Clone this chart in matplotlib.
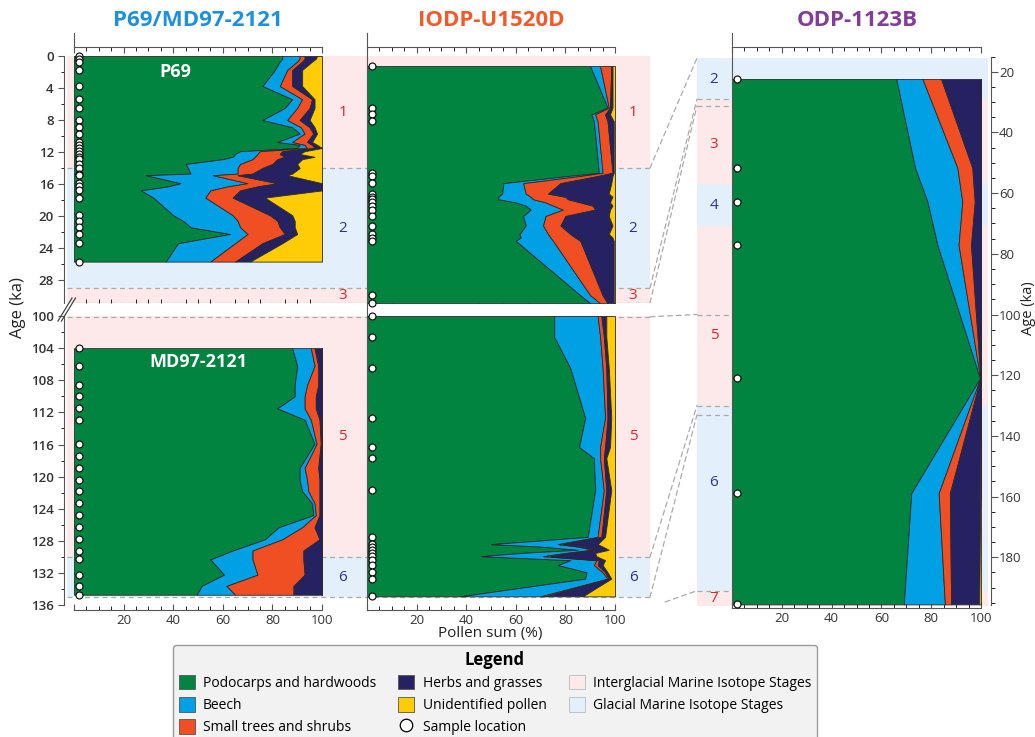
import numpy as np
import matplotlib.pyplot as plt
from matplotlib.patches import Patch, ConnectionPatch
from matplotlib.lines import Line2D

plt.rcParams['font.family'] = ['Open Sans', 'DejaVu Sans']

# pollen groups (percent of pollen sum)
groups = ['Podocarps and hardwoods', 'Beech', 'Small trees and shrubs',
          'Herbs and grasses', 'Unidentified pollen']
colors = ['#00843f', '#00a1e4', '#f04e23', '#262261', '#ffcc05']

# P69 core, 0-26 ka
p69_age = [0, 0.35, 0.7, 1.75, 3.75, 5.4, 6.5, 8.0, 8.9, 9.7, 10.75, 11.1, 11.5,
           11.9, 12.25, 12.6, 12.9, 13.5, 14.0, 14.7, 14.9, 15.9, 16.3, 16.8,
           17.7, 19.9, 20.6, 21.4, 22.25, 23.4, 25.7]
p69_podo = [84, 84, 83, 81, 76, 88, 85, 76, 88, 91, 82, 91, 90, 67, 65, 64, 60, 45,
            46, 47, 29, 43, 38, 27, 32, 40, 44, 47, 63, 42, 37]
p69_beech = [7, 7, 7, 5, 7, 4, 5, 10, 3.5, 2, 6, 2, 4, 8, 9, 9, 12, 22, 20, 19, 27,
             27, 24, 28, 21, 24, 22, 20, 7, 23, 18]
p69_shrub = [2, 2, 2, 2, 5, 4, 5, 5, 3.5, 3.5, 6, 3, 3, 9, 9, 12, 10, 13, 10, 6, 10,
             12, 12, 12, 11, 15, 16, 16, 15, 11, 10]
p69_herb = [5, 4.5, 4, 4, 4, 1, 2, 4, 2, 1.5, 2, 2, 3, 9, 8, 12, 10, 10, 15, 16, 20,
            18, 26, 33, 13, 9, 7, 6, 5, 8, 6]
p69_unid = [2, 2.5, 4, 8, 8, 3, 3, 5, 3, 2, 4, 2, 0, 7, 9, 3, 8, 10, 9, 12, 14, 0,
            0, 0, 23, 12, 11, 11, 10, 16, 29]

# MD97-2121 core, 104-135 ka
md97_age = [104.0, 106.2, 108.6, 110.0, 111.5, 112.9, 115.9, 117.4, 118.9, 120.4,
            121.8, 123.3, 124.8, 126.3, 127.8, 129.2, 130.3, 132.2, 133.6, 134.7]
md97_podo = [88, 90, 89, 89, 82, 93, 97, 94, 91, 91, 92, 96, 96.5, 82.5, 77, 64,
             55, 60.5, 51.5, 49.5]
md97_beech = [7.5, 7, 5, 4, 11, 2.5, 0.8, 1.5, 2, 3, 2.5, 1, 1, 9.5, 7, 8, 17,
              13.5, 10, 15.5]
md97_shrub = [1.5, 1.5, 4.5, 4.5, 4.5, 3.5, 1.7, 3.5, 5.5, 5, 4.5, 2, 1.5, 5, 15,
              20.5, 20.5, 19, 27, 23.5]
md97_herb = [3, 1.5, 1.5, 2.5, 2.5, 1, 0.5, 1, 1.5, 1, 1, 1, 1, 3, 1, 7.5, 7.5, 7,
             11.5, 11.5]
md97_unid = [0] * 20

# IODP-U1520D, upper interval
u_up_age = [1.25, 6.46, 7.3, 8.17, 14.6, 15.0, 15.9, 17.2, 17.6, 17.9, 18.3, 18.7,
            19.2, 20.0, 21.2, 22.25, 22.7, 23.1, 29.9, 30.9]
u_up_podo = [90, 97, 90.5, 91.5, 93.5, 81, 55, 54.5, 53, 53, 60, 64, 66, 63, 64,
             61.5, 62, 60, 86, 90]
u_up_beech = [4, 0.5, 1.5, 1.5, 1.5, 5, 8, 9.5, 13, 14, 12, 11, 13, 9, 7, 11.5,
              12, 15, 4, 4]
u_up_shrub = [4.5, 0.5, 4, 4, 4, 7, 15, 9, 14, 14, 14, 16, 13, 8, 7, 9, 10, 11,
              5, 3]
u_up_herb = [0.5, 1, 2, 2.5, 0.5, 6, 20.5, 24.5, 19, 17.5, 12, 8, 6, 17.5, 21,
             15.5, 15, 13.5, 4.5, 2.5]
u_up_unid = [1, 1, 2, 0.5, 0.5, 1, 1.5, 2.5, 1, 1.5, 2, 1, 2, 2.5, 1, 2.5, 1,
             0.5, 0.5, 0.5]

# IODP-U1520D, lower interval
u_lo_age = [100.0, 102.6, 106.5, 112.7, 116.3, 117.7, 121.7, 127.5, 128.4, 128.7,
            129.1, 129.5, 129.9, 130.4, 131.0, 131.9, 132.7, 134.9]
u_lo_podo = [75.5, 75.5, 82, 88, 85.5, 91.5, 92, 89, 50, 70, 85, 62, 46, 82, 77,
             88.5, 88, 37.5]
u_lo_beech = [17.5, 18.5, 13, 8, 8.5, 2.5, 3.5, 4, 27, 15, 6, 18, 25, 10.5, 14.5,
              6.5, 9, 32.5]
u_lo_shrub = [1.5, 1.5, 1.5, 1, 2, 1.5, 1, 1.5, 2, 2, 1, 2, 3, 1, 1.5, 1, 0.5, 2]
u_lo_herb = [2, 1, 1, 1.5, 2, 1, 2, 1.5, 14, 8, 5.5, 10, 18.5, 2.5, 2, 1, 1, 15]
u_lo_unid = [3.5, 3.5, 2.5, 1.5, 2, 3.5, 1.5, 4, 7, 5, 2.5, 8, 7.5, 4, 5, 3, 1.5, 13]

# ODP-1123B
odp_age = [22.4, 51.6, 62.8, 77.1, 121.0, 158.9, 195.5]
odp_podo = [66, 73.5, 78.5, 82.5, 99.6, 72, 69]
odp_beech = [10.5, 17, 14, 8.5, 0.1, 11, 16.5]
odp_shrub = [7.5, 6, 5, 5, 0.1, 4.5, 2.5]
odp_herb = [16, 3.5, 2.5, 4, 0.1, 12.2, 11.3]
odp_unid = [0, 0, 0, 0, 0.1, 0.3, 0.7]

# marine isotope stages (ka)
mis_num = [1, 2, 3, 4, 5, 6, 7]
mis_top = [0, 14, 29, 57, 71, 130, 191]
mis_bottom = [14, 29, 57, 71, 130, 191, 243]
odp_label_age = [22.5, 44, 64, 107, 155.5, 193.5]

pink = '#fde9e9'
paleblue = '#e3f0fb'
red_txt = '#e0262c'
blue_txt = '#2e3192'
dash = dict(color='#ababab', lw=0.9, ls=(0, (4, 3)))
spine_c = '#555555'
tick_c = '#333333'

W, H = 1035, 737
fig = plt.figure(figsize=(W / 100, H / 100), dpi=100)


def px_axes(x0, y0, x1, y1):
    return fig.add_axes([x0 / W, 1 - y1 / H, (x1 - x0) / W, (y1 - y0) / H])


up_lim = (30.875, -1.125)
lo_lim = (136.6, 100)
odp_lim = (196.7, 11.86)


def draw_bands(ax, a_min, a_max, lines, label_x, label_ages=None):
    ax.set_xlim(0, 1)
    ax.axis('off')
    k = 0
    for num, a0, a1 in zip(mis_num, mis_top, mis_bottom):
        lo, hi = max(a0, a_min), min(a1, a_max)
        if hi <= lo:
            continue
        glacial = num % 2 == 0
        ax.axhspan(lo, hi, color=paleblue if glacial else pink, lw=0)
        ya = (lo + hi) / 2 if label_ages is None else label_ages[k]
        k += 1
        for lx in label_x:
            ax.text(lx, ya, str(num), transform=ax.get_yaxis_transform(),
                    ha='center', va='center', fontsize=11,
                    color=blue_txt if glacial else red_txt)
    for a, xmax in lines:
        ax.axhline(a, xmin=0, xmax=xmax, **dash)


band_up = px_axes(67, 47, 650, 303)
band_up.set_ylim(up_lim)
draw_bands(band_up, 0, 30.875, [(14, 1), (29, 1), (30.85, 1)], [0.473, 0.971])

band_lo = px_axes(67, 316, 650, 610)
band_lo.set_ylim(lo_lim)
draw_bands(band_lo, 100, 135, [(100.1, 1), (130, 1), (135, 1)], [0.473, 0.971])

band_odp = px_axes(697, 47, 988, 608)
band_odp.set_ylim(odp_lim)
draw_bands(band_odp, 15.5, 196, [(29, 0.12), (31.2, 0.12), (100, 0.12),
                                 (130, 0.12), (133, 0.12), (191, 0.12)],
           [0.058], odp_label_age)


def draw_stack(ax, ages, parts):
    cum = np.cumsum(np.vstack(parts), axis=0)
    left = np.zeros(len(ages))
    for right, c in zip(cum, colors):
        ax.fill_betweenx(ages, left, right, facecolor=c, edgecolor='#2a2a2a',
                         linewidth=0.6, zorder=2)
        left = right
    ax.plot(np.full(len(ages), 2.0), ages, 'o', mfc='white', mec='black',
            ms=5, mew=0.8, clip_on=False, zorder=5)


def style_data(ax, ylim, top=False, bottom=False):
    ax.set_facecolor('none')
    ax.set_xlim(0, 100)
    ax.set_ylim(ylim)
    for s in ax.spines.values():
        s.set_visible(False)
        s.set_color(spine_c)
        s.set_linewidth(0.8)
    ax.tick_params(left=False, labelleft=False, bottom=False, labelbottom=False,
                   colors=spine_c, labelcolor=tick_c)
    ax.set_xticks(range(0, 101, 20))
    ax.set_xticks(range(0, 101, 5), minor=True)
    if top:
        ax.spines['top'].set_visible(True)
        ax.tick_params(axis='x', which='both', top=True, labeltop=False,
                       direction='in')
        ax.tick_params(axis='x', which='major', length=4)
        ax.tick_params(axis='x', which='minor', length=3)
    if bottom:
        ax.spines['bottom'].set_visible(True)
        ax.set_xticklabels(['', '20', '40', '60', '80', '100'])
        ax.tick_params(axis='x', which='both', bottom=True, labelbottom=True,
                       direction='in', labelsize=9.5, pad=3)
        ax.tick_params(axis='x', which='major', length=4)
        ax.tick_params(axis='x', which='minor', length=3)


def left_age_axis(ax, lo, hi):
    ax.spines['left'].set_visible(True)
    ax.spines['left'].set_position(('outward', 7))
    ax.spines['left'].set_bounds(lo, hi)
    ax.set_yticks(range(lo, hi + 1, 4))
    ax.set_yticks(range(lo, hi + 1, 2), minor=True)
    ax.tick_params(axis='y', which='both', left=True, labelleft=True,
                   direction='out', labelsize=9.5)
    ax.tick_params(axis='y', which='major', length=4)
    ax.tick_params(axis='y', which='minor', length=2.5)
    for lab in ax.get_yticklabels():
        lab.set_fontweight('semibold')


# P69 / MD97-2121
ax1u = px_axes(74, 47, 322, 303)
style_data(ax1u, up_lim, top=True)
draw_stack(ax1u, p69_age, [p69_podo, p69_beech, p69_shrub, p69_herb, p69_unid])
left_age_axis(ax1u, 0, 28)
ax1u.spines['left'].set_bounds(0, 30.875)
ax1u.plot([0, 0], [-2.9, -1.125], color=spine_c, lw=0.8, clip_on=False)
ax1u.text(40.7, 2.0, 'P69', color='white', fontsize=13, fontweight='bold',
          ha='center', va='center', zorder=6)

ax1l = px_axes(74, 316, 322, 610)
style_data(ax1l, lo_lim, bottom=True)
draw_stack(ax1l, md97_age, [md97_podo, md97_beech, md97_shrub, md97_herb, md97_unid])
left_age_axis(ax1l, 100, 136)
ax1l.text(50, 105.7, 'MD97-2121', color='white', fontsize=13, fontweight='bold',
          ha='center', va='center', zorder=6)

# IODP-U1520D
ax2u = px_axes(367, 47, 615, 303)
style_data(ax2u, up_lim, top=True)
draw_stack(ax2u, u_up_age, [u_up_podo, u_up_beech, u_up_shrub, u_up_herb, u_up_unid])
ax2u.plot([0, 0], [-2.9, 30.875], color=spine_c, lw=0.8, clip_on=False, zorder=3)

ax2l = px_axes(367, 316, 615, 610)
style_data(ax2l, lo_lim, bottom=True)
draw_stack(ax2l, u_lo_age, [u_lo_podo, u_lo_beech, u_lo_shrub, u_lo_herb, u_lo_unid])
ax2l.plot([0, 0], [98.4, 136.6], color=spine_c, lw=0.8, clip_on=False, zorder=3)

# ODP-1123B
ax3 = px_axes(732, 47, 981, 608)
style_data(ax3, odp_lim, top=True, bottom=True)
draw_stack(ax3, odp_age, [odp_podo, odp_beech, odp_shrub, odp_herb, odp_unid])
ax3.plot([0, 0], [7.2, 196.7], color=spine_c, lw=0.8, clip_on=False, zorder=3)
ax3.spines['right'].set_visible(True)
ax3.spines['right'].set_position(('outward', 7))
ax3.spines['right'].set_bounds(15.2, 195.7)
ax3.yaxis.set_ticks_position('right')
ax3.set_yticks(range(20, 181, 20))
ax3.set_yticks(range(15, 196, 5), minor=True)
ax3.tick_params(axis='y', which='both', right=True, labelright=True,
                direction='out', labelsize=9.5, pad=1)
ax3.tick_params(axis='y', which='major', length=5)
ax3.tick_params(axis='y', which='minor', length=3)

# dashed links between the age scales
links = [(band_up, 14, 15.5), (band_up, 29, 29), (band_up, 30.85, 31.2),
         (band_lo, 100.1, 100), (band_lo, 130, 130), (band_lo, 135, 133)]
for bax, a_from, a_to in links:
    con = ConnectionPatch(xyA=(1, a_from), coordsA=bax.get_yaxis_transform(),
                          xyB=(0, a_to), coordsB=band_odp.get_yaxis_transform(),
                          **dash)
    fig.add_artist(con)
con = ConnectionPatch(xyA=(1.026, 135.6), coordsA=band_lo.get_yaxis_transform(),
                      xyB=(0, 191), coordsB=band_odp.get_yaxis_transform(), **dash)
fig.add_artist(con)

# axis break marks
for dx in (0, 3.5):
    fig.add_artist(Line2D([(58 + dx) / W, (72 + dx) / W], [1 - 321 / H, 1 - 298 / H],
                          color='#444444', lw=0.9))

# titles and axis labels
fig.text(198 / W, 1 - 20 / H, 'P69/MD97-2121', color='#1d91dc', fontsize=16,
         fontweight='bold', ha='center', va='center')
fig.text(491 / W, 1 - 20 / H, 'IODP-U1520D', color='#f15a29', fontsize=16,
         fontweight='bold', ha='center', va='center')
fig.text(857 / W, 1 - 20 / H, 'ODP-1123B', color='#833c97', fontsize=16,
         fontweight='bold', ha='center', va='center')
fig.text(18 / W, 1 - 308 / H, 'Age (ka)', rotation=90, fontsize=12,
         ha='center', va='center', color='#222222')
fig.text(1028 / W, 1 - 308 / H, 'Age (ka)', rotation=90, fontsize=10.5,
         ha='center', va='center', color='#222222')
fig.text(490 / W, 1 - 633 / H, 'Pollen sum (%)', fontsize=11,
         ha='center', va='center', color='#222222')

# legend
handles = [Patch(facecolor=c, edgecolor='#555555', lw=0.6, label=g)
           for g, c in zip(groups, colors)]
handles.append(Line2D([], [], ls='', marker='o', mfc='white', mec='black',
                      ms=9, mew=0.9, label='Sample location'))
handles.append(Patch(facecolor=pink, edgecolor='#bbbbbb', lw=0.6,
                     label='Interglacial Marine Isotope Stages'))
handles.append(Patch(facecolor=paleblue, edgecolor='#bbbbbb', lw=0.6,
                     label='Glacial Marine Isotope Stages'))
leg = fig.legend(handles=handles, loc='upper center',
                 bbox_to_anchor=(495 / W, 1 - 645 / H), ncol=3, title='Legend',
                 title_fontproperties={'weight': 'bold', 'size': 12},
                 fontsize=10, frameon=True, fancybox=True, facecolor='#f2f2f2',
                 edgecolor='#9a9a9a', framealpha=1, handlelength=1.15,
                 handleheight=1.25, handletextpad=0.6, columnspacing=1.6,
                 labelspacing=0.45, borderpad=0.4, borderaxespad=0)

fig.savefig('out.png', dpi=100)
